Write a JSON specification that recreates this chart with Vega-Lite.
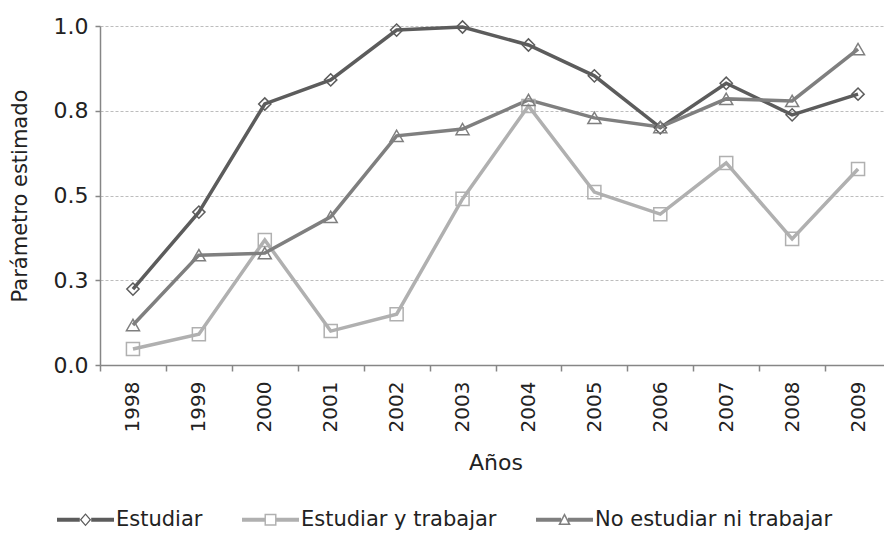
{
  "$schema": "https://vega.github.io/schema/vega-lite/v6.json",
  "width": 784,
  "height": 339,
  "autosize": {"type": "none"},
  "padding": {"left": 100, "top": 26, "right": 0, "bottom": 179},
  "background": "white",
  "config": {"view": {"stroke": null}, "font": "DejaVu Sans"},
  "data": {
    "values": [
      {"year": 1998, "serie": "Estudiar", "value": 0.224},
      {"year": 1999, "serie": "Estudiar", "value": 0.451},
      {"year": 2000, "serie": "Estudiar", "value": 0.770},
      {"year": 2001, "serie": "Estudiar", "value": 0.841},
      {"year": 2002, "serie": "Estudiar", "value": 0.988},
      {"year": 2003, "serie": "Estudiar", "value": 0.997},
      {"year": 2004, "serie": "Estudiar", "value": 0.944},
      {"year": 2005, "serie": "Estudiar", "value": 0.853},
      {"year": 2006, "serie": "Estudiar", "value": 0.700},
      {"year": 2007, "serie": "Estudiar", "value": 0.831},
      {"year": 2008, "serie": "Estudiar", "value": 0.738},
      {"year": 2009, "serie": "Estudiar", "value": 0.799},
      {"year": 1998, "serie": "Estudiar y trabajar", "value": 0.047},
      {"year": 1999, "serie": "Estudiar y trabajar", "value": 0.091},
      {"year": 2000, "serie": "Estudiar y trabajar", "value": 0.369},
      {"year": 2001, "serie": "Estudiar y trabajar", "value": 0.100},
      {"year": 2002, "serie": "Estudiar y trabajar", "value": 0.150},
      {"year": 2003, "serie": "Estudiar y trabajar", "value": 0.490},
      {"year": 2004, "serie": "Estudiar y trabajar", "value": 0.764},
      {"year": 2005, "serie": "Estudiar y trabajar", "value": 0.510},
      {"year": 2006, "serie": "Estudiar y trabajar", "value": 0.445},
      {"year": 2007, "serie": "Estudiar y trabajar", "value": 0.596},
      {"year": 2008, "serie": "Estudiar y trabajar", "value": 0.372},
      {"year": 2009, "serie": "Estudiar y trabajar", "value": 0.578},
      {"year": 1998, "serie": "No estudiar ni trabajar", "value": 0.118},
      {"year": 1999, "serie": "No estudiar ni trabajar", "value": 0.324},
      {"year": 2000, "serie": "No estudiar ni trabajar", "value": 0.330},
      {"year": 2001, "serie": "No estudiar ni trabajar", "value": 0.437},
      {"year": 2002, "serie": "No estudiar ni trabajar", "value": 0.676},
      {"year": 2003, "serie": "No estudiar ni trabajar", "value": 0.696},
      {"year": 2004, "serie": "No estudiar ni trabajar", "value": 0.782},
      {"year": 2005, "serie": "No estudiar ni trabajar", "value": 0.729},
      {"year": 2006, "serie": "No estudiar ni trabajar", "value": 0.702},
      {"year": 2007, "serie": "No estudiar ni trabajar", "value": 0.785},
      {"year": 2008, "serie": "No estudiar ni trabajar", "value": 0.779},
      {"year": 2009, "serie": "No estudiar ni trabajar", "value": 0.932}
    ]
  },
  "encoding": {
    "x": {
      "field": "year",
      "type": "ordinal",
      "bandPosition": 0.5,
      "scale": {"type": "band", "paddingInner": 0, "paddingOuter": 0, "range": [0, 791]},
      "axis": {
        "title": "Años",
        "titleFont": "DejaVu Sans",
        "titleFontSize": 22,
        "titleFontWeight": "normal",
        "titleColor": "#222222",
        "titlePadding": 21,
        "labelAngle": -90,
        "labelFont": "DejaVu Sans",
        "labelFontSize": 20,
        "labelColor": "#222222",
        "labelPadding": 10,
        "tickBand": "extent",
        "tickSize": 6,
        "tickWidth": 1.5,
        "tickColor": "#868686",
        "domainColor": "#868686",
        "domainWidth": 1.5,
        "grid": false
      }
    },
    "y": {
      "field": "value",
      "type": "quantitative",
      "scale": {"domain": [0, 1]},
      "axis": {
        "title": "Parámetro estimado",
        "titleFont": "DejaVu Sans",
        "titleFontSize": 21,
        "titleFontWeight": "normal",
        "titleColor": "#222222",
        "titlePadding": 23,
        "values": [0, 0.25, 0.5, 0.75, 1],
        "format": ".1f",
        "labelFont": "DejaVu Sans",
        "labelFontSize": 22,
        "labelColor": "#222222",
        "labelPadding": 7,
        "tickSize": 5,
        "tickWidth": 1.5,
        "tickColor": "#868686",
        "domainColor": "#868686",
        "domainWidth": 1.5,
        "grid": true,
        "gridColor": "#bdbdbd",
        "gridDash": [3, 2],
        "gridWidth": 1
      }
    }
  },
  "layer": [
    {
      "mark": {"type": "line", "strokeWidth": 3.5},
      "encoding": {
        "color": {
          "field": "serie",
          "type": "nominal",
          "scale": {
            "domain": ["Estudiar", "Estudiar y trabajar", "No estudiar ni trabajar"],
            "range": ["#5c5c5c", "#b0b0b0", "#7f7f7f"]
          },
          "legend": {
            "title": null,
            "orient": "none",
            "legendX": -43,
            "legendY": 465,
            "direction": "horizontal",
            "columns": 3,
            "padding": 0,
            "symbolSize": 3249,
            "labelFont": "DejaVu Sans",
            "labelFontSize": 21,
            "labelColor": "#222222",
            "labelOffset": 2,
            "labelLimit": 400,
            "columnPadding": 39,
            "encode": {
              "symbols": {
                "update": {
                  "shape": {"signal": "datum.value === 'Estudiar' ? 'M-1,-0.07H-0.2V0.07H-1Z M0.2,-0.07H1V0.07H0.2Z M0,-0.23L0.2,0L0,0.23L-0.2,0Z M0,-0.17L-0.14,0L0,0.17L0.14,0Z' : datum.value === 'Estudiar y trabajar' ? 'M-1,-0.07H-0.21V0.07H-1Z M0.21,-0.07H1V0.07H0.21Z M-0.21,-0.21H0.21V0.21H-0.21Z M-0.16,-0.16V0.16H0.16V-0.16Z' : 'M-1,-0.07H-0.12V0.07H-1Z M0.12,-0.07H1V0.07H0.12Z M0,-0.24L0.22,0.18H-0.22Z M0,-0.12L-0.13,0.13H0.13Z'"},
                  "fill": {"signal": "datum.value === 'Estudiar' ? '#5c5c5c' : datum.value === 'Estudiar y trabajar' ? '#b0b0b0' : '#7f7f7f'"},
                  "stroke": {"value": "transparent"},
                  "strokeWidth": {"value": 0},
                  "opacity": {"value": 1}
                }
              }
            }
          }
        }
      }
    },
    {
      "transform": [{"filter": "datum.serie === 'Estudiar'"}],
      "mark": {"type": "point", "shape": "diamond", "filled": false, "size": 150, "strokeWidth": 1.5, "opacity": 1, "color": "#5c5c5c"}
    },
    {
      "transform": [{"filter": "datum.serie === 'Estudiar y trabajar'"}],
      "mark": {"type": "point", "shape": "square", "filled": false, "size": 170, "strokeWidth": 1.5, "opacity": 1, "color": "#b0b0b0"}
    },
    {
      "transform": [{"filter": "datum.serie === 'No estudiar ni trabajar'"}],
      "mark": {"type": "point", "shape": "triangle-up", "filled": false, "size": 170, "strokeWidth": 1.5, "opacity": 1, "color": "#7f7f7f"}
    }
  ]
}
